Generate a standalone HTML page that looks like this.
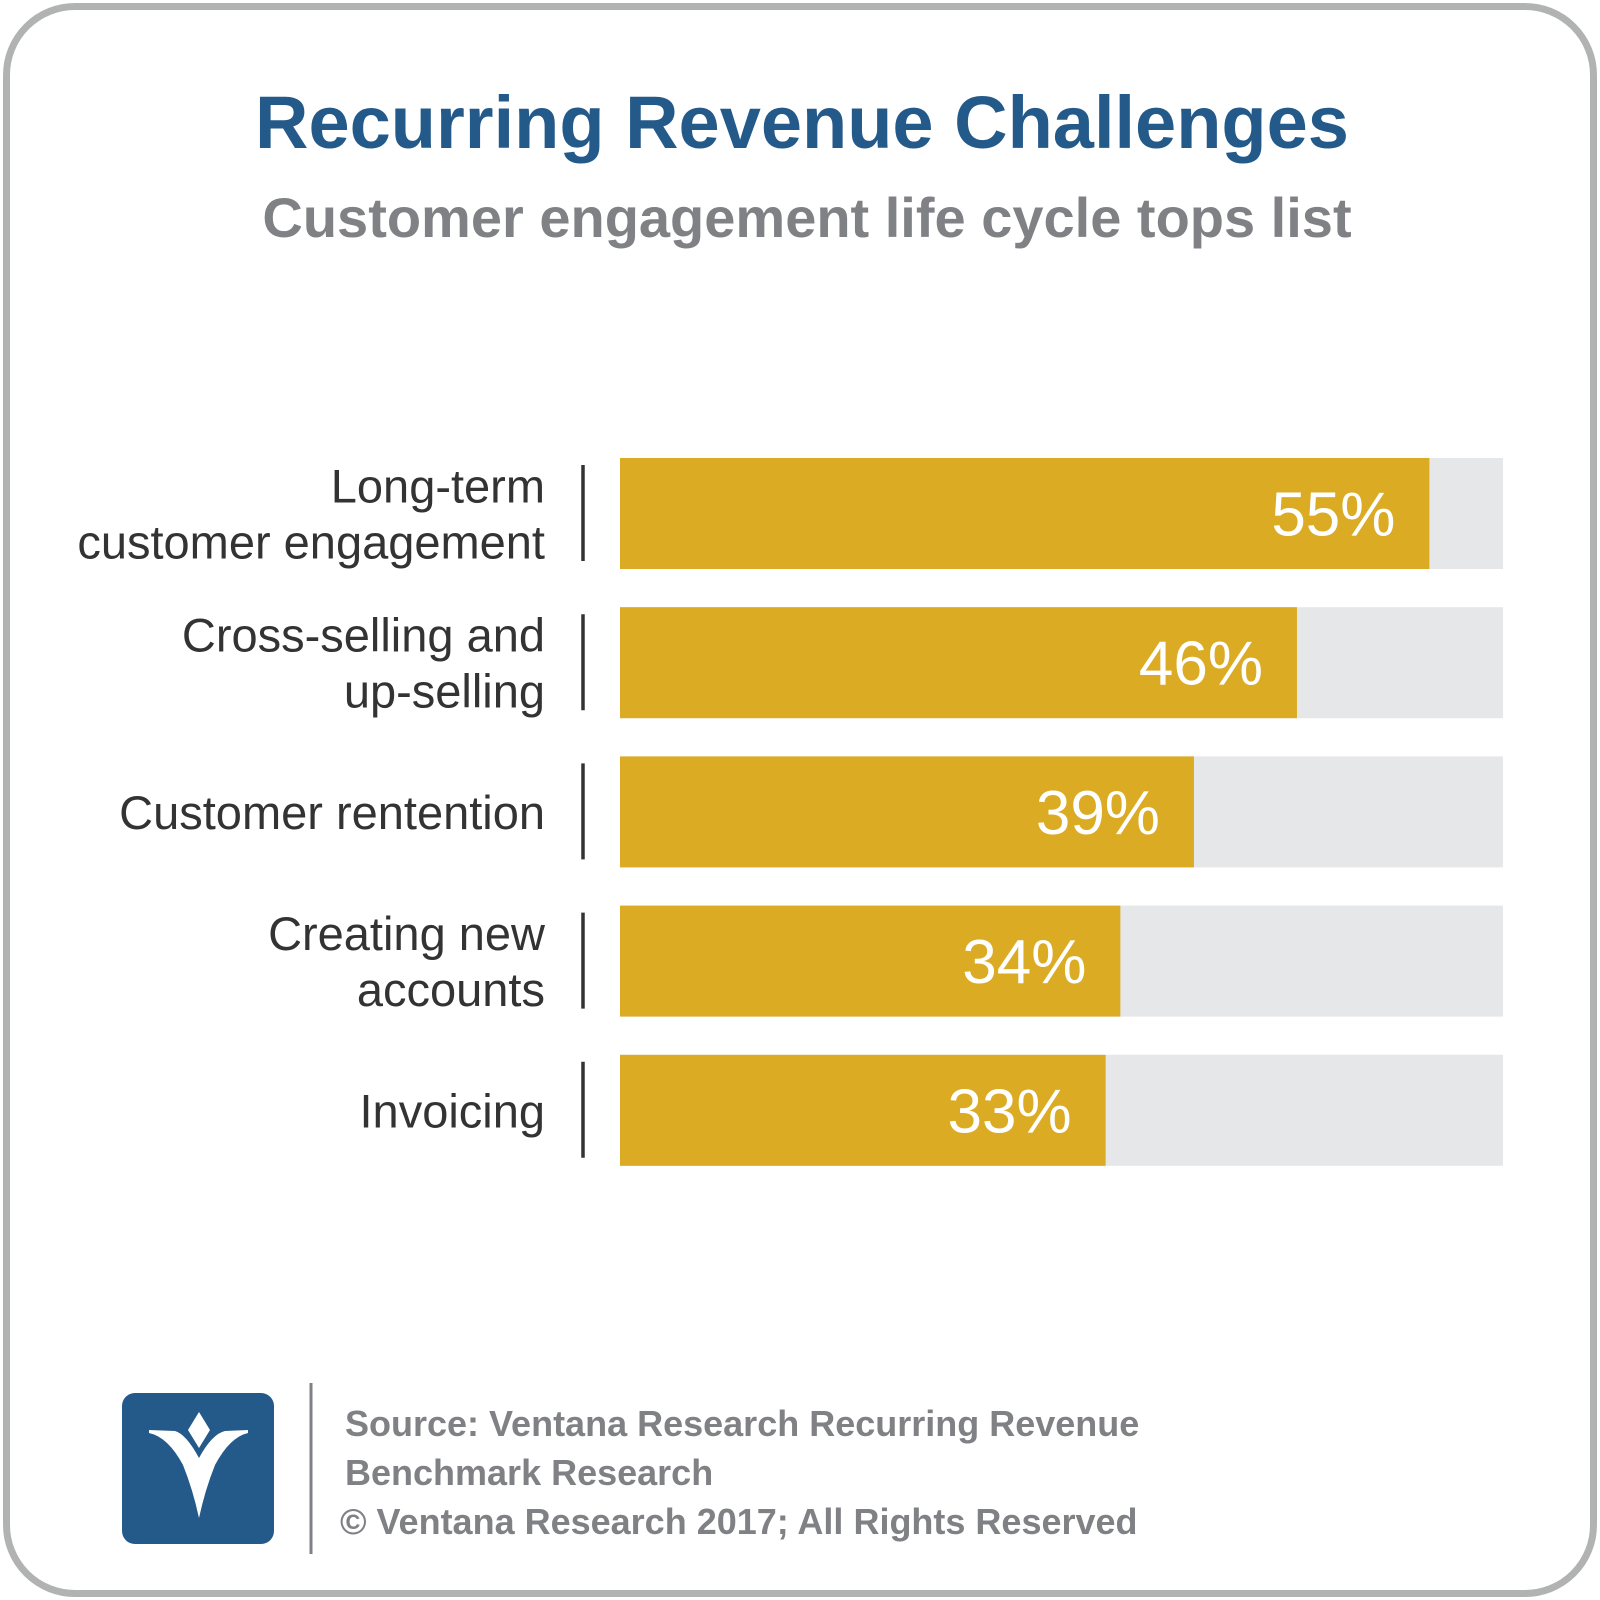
<!DOCTYPE html>
<html><head><meta charset="utf-8"><style>
html,body{margin:0;padding:0;background:#fff}
#page{position:relative;width:1600px;height:1600px;overflow:hidden;font-family:"Liberation Sans",sans-serif}
.frame{position:absolute;left:3px;top:3px;width:1580px;height:1580px;border:7px solid #b1b3b2;border-radius:72px}
</style></head><body>
<div id="page">
<div class="frame"></div>
<svg width="1600" height="1600" style="position:absolute;left:0;top:0">
<text x="802" y="148" text-anchor="middle" font-size="74" font-weight="bold" fill="#245a8a">Recurring Revenue Challenges</text>
<text x="807" y="237" text-anchor="middle" font-size="56" font-weight="bold" fill="#808184">Customer engagement life cycle tops list</text>
<g id="bars"></g>
<rect x="122" y="1393" width="152" height="151" rx="13" fill="#245a8a"/>
<polygon points="188,1430 199,1412 210,1430 199,1448" fill="#fff"/>
<path d="M149,1430 L175,1431 Q186,1434 199,1458 Q212,1434 225,1431 L248,1430 L248,1433 Q230,1437 215,1465 Q205,1490 199,1518 Q193,1490 183,1465 Q168,1437 149,1433 Z" fill="#fff"/>
<line x1="311" y1="1383" x2="311" y2="1554" stroke="#808184" stroke-width="3"/>
<g font-size="36" font-weight="bold" fill="#808184">
<text x="345" y="1436">Source: Ventana Research Recurring Revenue</text>
<text x="345" y="1485">Benchmark Research</text>
<text x="340" y="1534">© Ventana Research 2017; All Rights Reserved</text>
</g>
</svg>
<script>
const categories=[["Long-term","customer engagement"],["Cross-selling and","up-selling"],["Customer rentention"],["Creating new","accounts"],["Invoicing"]];
const values=[55,46,39,34,33];
const maxValue=60;
const NS="http://www.w3.org/2000/svg";
const g=document.getElementById('bars');
const x0=620,x1=1503,top0=458,pitch=149.2,bh=111;
function xs(v){return x0+(x1-x0)*v/maxValue;}
function mk(t,a){const e=document.createElementNS(NS,t);for(const k in a)e.setAttribute(k,a[k]);g.appendChild(e);return e;}
values.forEach((v,i)=>{
 const y=top0+i*pitch;
 const bg=mk('rect',{x:x0,y:y,width:x1-x0,height:bh,fill:'#e6e7e8'});
 
 
 const b=mk('rect',{x:x0,y:y,width:xs(v)-x0,height:bh,fill:'#dbab24'});
 
 
 const t=mk('text',{x:xs(v)-34,y:y+bh/2+22,'text-anchor':'end','font-size':'62',fill:'#fff'});
 t.textContent=v+'%';
 
 
 const l=mk('line',{x1:583,y1:y+7,x2:583,y2:y+103,stroke:'#333','stroke-width':3.5});
 
 
 const lines=categories[i];
 const cy=y+bh/2+17;
 lines.forEach((s,j)=>{
  const tt=mk('text',{x:545,y:cy+(j-(lines.length-1)/2)*56,'text-anchor':'end','font-size':'47',fill:'#333'});
  tt.textContent=s;
  
  
 });
});
</script>
</div>
</body></html>
